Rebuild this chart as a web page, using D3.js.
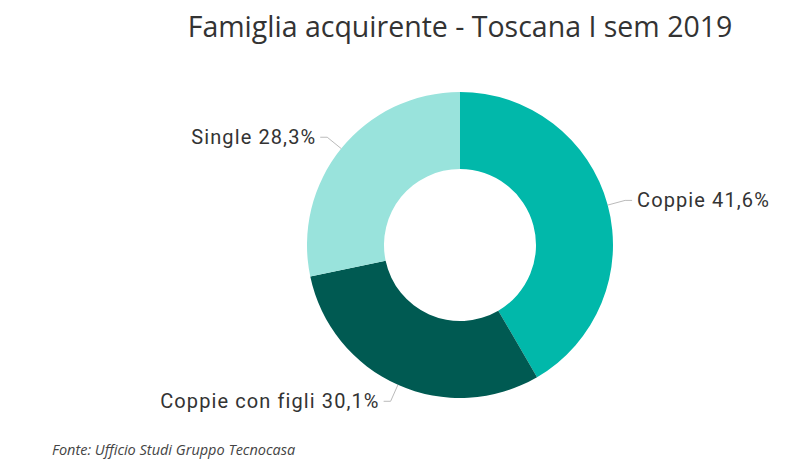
<!DOCTYPE html>
<html>
<head>
<meta charset="utf-8">
<script src="https://cdn.jsdelivr.net/npm/d3@7"></script>
<style>
  body { margin: 0; background: #fff; }
  svg { display: block; }
</style>
</head>
<body>
<div id="chart"></div>
<script>
// Data
const categories = ["Coppie", "Coppie con figli", "Single"];
const values = [41.6, 30.1, 28.3];
const colors = ["#01B8AA", "#005A52", "#99E3DC"];

const width = 800;
const height = 468;
const cx = 460, cy = 245;
const outerR = 153, innerR = 76;

const svg = d3.select("#chart")
  .append("svg")
  .attr("width", width)
  .attr("height", height);

// Title
svg.append("text")
  .attr("x", 460)
  .attr("y", 37)
  .attr("text-anchor", "middle")
  .style("font-family", "'Open Sans', 'Noto Sans', sans-serif")
  .style("font-size", "28.5px")
  .style("fill", "#333")
  .text("Famiglia acquirente - Toscana I sem 2019");

const pie = d3.pie().sort(null).value((d) => d.value);
const arc = d3.arc().innerRadius(innerR).outerRadius(outerR);

const data = categories.map((c, i) => ({ name: c, value: values[i], color: colors[i] }));
const arcs = pie(data);

const g = svg.append("g").attr("transform", `translate(${cx},${cy})`);

g.selectAll("path.slice")
  .data(arcs)
  .enter()
  .append("path")
  .attr("class", "slice")
  .attr("d", arc)
  .attr("fill", (d) => d.data.color);

// Leader lines + labels
const fmt = (v) => v.toFixed(1).replace(".", ",") + "%";
arcs.forEach((d) => {
  const mid = (d.startAngle + d.endAngle) / 2;
  const sx = Math.sin(mid), sy = -Math.cos(mid);
  const p0 = [outerR * sx, outerR * sy];
  const p1 = [(outerR + 18) * sx, (outerR + 18) * sy];
  const right = sx > 0;
  const p2 = [p1[0] + (right ? 7 : -7), p1[1]];

  g.append("polyline")
    .attr("points", [p0, p1, p2].map((p) => p.join(",")).join(" "))
    .attr("fill", "none")
    .attr("stroke", "#bbb")
    .attr("stroke-width", 1);

  g.append("text")
    .attr("x", p2[0] + (right ? 5 : -4))
    .attr("y", p2[1])
    .attr("dy", "0.35em")
    .attr("text-anchor", right ? "start" : "end")
    .style("font-family", "Roboto, 'DejaVu Sans', sans-serif")
    .style("font-size", "20px")
    .style("letter-spacing", "1.1px")
    .style("fill", "#333")
    .text(`${d.data.name} ${fmt(d.data.value)}`);
});

// Source note
svg.append("text")
  .attr("x", 52)
  .attr("y", 455)
  .style("font-family", "'Open Sans', 'Noto Sans', sans-serif")
  .style("font-style", "italic")
  .style("font-size", "14.5px")
  .style("fill", "#444")
  .text("Fonte: Ufficio Studi Gruppo Tecnocasa");
</script>
</body>
</html>
